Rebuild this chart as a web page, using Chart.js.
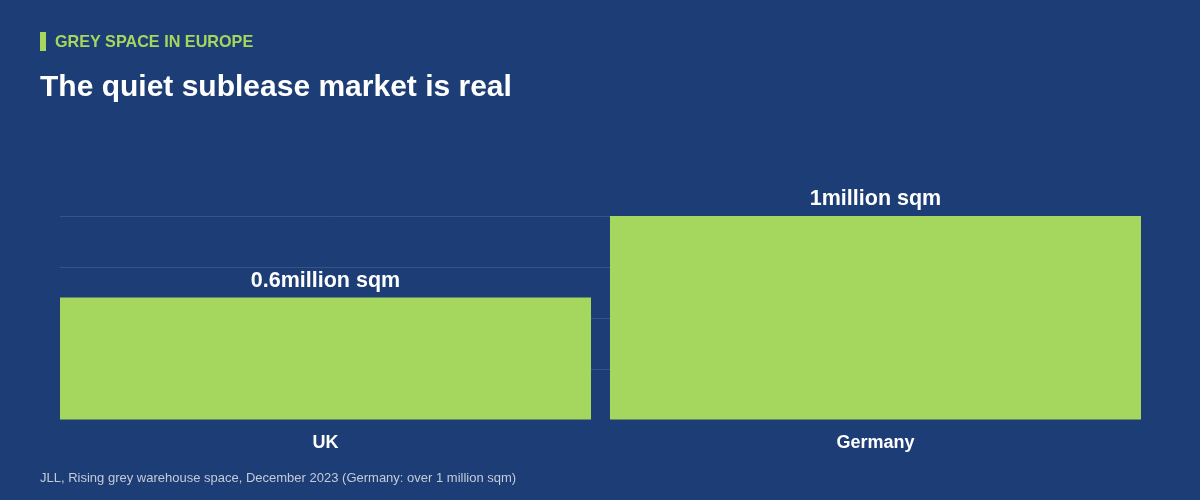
<!DOCTYPE html>
<html>
<head>
<meta charset="utf-8">
<script src="https://cdn.jsdelivr.net/npm/chart.js@4/dist/chart.umd.min.js"></script>
<style>
  html,body{margin:0;padding:0;background:#1c3d75;}
  #wrap{position:relative;width:1200px;height:500px;overflow:hidden;font-family:"Liberation Sans",Arial,sans-serif;}
  #kicker{position:absolute;left:40px;top:32px;height:19px;padding-left:9px;border-left:6px solid #a5d75e;color:#a5d75e;font-weight:bold;font-size:16.2px;line-height:18px;}
  #title{position:absolute;left:40px;top:68px;color:#fff;font-weight:bold;font-size:30px;line-height:36px;}
  #source{position:absolute;left:40px;top:470px;color:#c3cbd9;font-size:13px;line-height:16px;}
  #chart{position:absolute;left:0;top:0;}
</style>
</head>
<body>
<div id="wrap">
  <canvas id="chart" width="1200" height="500"></canvas>
  <div id="kicker">GREY SPACE IN EUROPE</div>
  <div id="title">The quiet sublease market is real</div>
  <div id="source">JLL, Rising grey warehouse space, December 2023 (Germany: over 1 million sqm)</div>
</div>
<script>
// data
const categories = ['UK', 'Germany'];
const spaceMillionSqm = [0.6, 1];
const unitLabel = 'million sqm';
const yTicks = [0, 0.25, 0.5, 0.75, 1];

const GREEN = '#a5d75e';

// value labels above each bar
const valueLabels = {
  id: 'valueLabels',
  afterDatasetsDraw(chart){
    const ctx = chart.ctx;
    const meta = chart.getDatasetMeta(0);
    ctx.save();
    ctx.fillStyle = '#ffffff';
    ctx.font = 'bold 21.5px "Liberation Sans", Arial, sans-serif';
    ctx.textAlign = 'center';
    ctx.textBaseline = 'alphabetic';
    meta.data.forEach((bar, i) => {
      ctx.fillText(spaceMillionSqm[i] + unitLabel, bar.x, bar.y - 11);
    });
    ctx.restore();
  }
};

new Chart(document.getElementById('chart').getContext('2d'), {
  type: 'bar',
  data: {
    datasets: [{
      data: categories.map((c, i) => ({x: i, y: spaceMillionSqm[i]})),
      backgroundColor: GREEN,
      borderWidth: 0,
      categoryPercentage: 1,
      barPercentage: 0.9655
    }]
  },
  options: {
    responsive: false,
    animation: false,
    layout: {padding: {left: 60, right: 59, top: 216, bottom: 0}},
    plugins: {legend: {display: false}, tooltip: {enabled: false}},
    scales: {
      x: {
        type: 'linear',
        offset: false,
        min: -0.48273,
        max: 1.48273,
        afterBuildTicks: s => { s.ticks = categories.map((c, i) => ({value: i})); },
        afterFit: s => { s.height = 80; },
        grid: {display: false, drawTicks: false, offset: false},
        border: {display: false},
        ticks: {
          padding: 12,
          color: '#ffffff',
          font: {family: '"Liberation Sans", Arial, sans-serif', size: 18, weight: 'bold'},
          callback: v => categories[v]
        }
      },
      y: {
        min: 0,
        max: 1,
        afterBuildTicks: s => { s.ticks = yTicks.map(v => ({value: v})); },
        afterFit: s => { s.width = 0; },
        ticks: {display: false},
        border: {display: false},
        grid: {
          drawTicks: false,
          color: c => c.tick && c.tick.value === 0 ? 'rgba(0,0,0,0)' : 'rgba(110,140,190,0.3)',
          lineWidth: 1
        }
      }
    }
  },
  plugins: [valueLabels]
});
</script>
</body>
</html>
